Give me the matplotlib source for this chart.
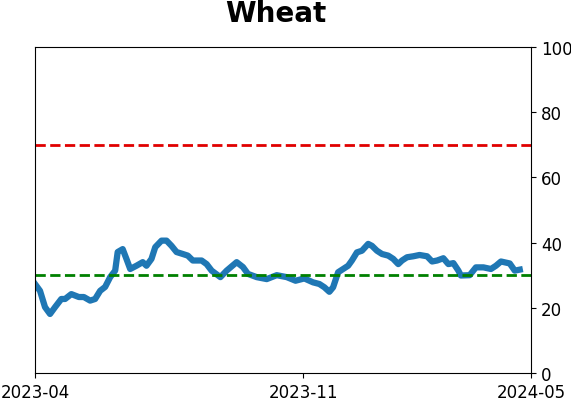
import matplotlib
matplotlib.use("Agg")
import matplotlib.pyplot as plt
import pandas as pd

dates = ["2023-04-01","2023-04-05","2023-04-09","2023-04-13","2023-04-17","2023-04-22","2023-04-25",
         "2023-04-30","2023-05-06","2023-05-10","2023-05-15","2023-05-19","2023-05-23","2023-05-27",
         "2023-05-31","2023-06-04","2023-06-06","2023-06-10","2023-06-13","2023-06-16","2023-06-21",
         "2023-06-26","2023-06-29","2023-07-03","2023-07-06","2023-07-11","2023-07-15","2023-07-19",
         "2023-07-23","2023-07-28","2023-08-01","2023-08-05","2023-08-12","2023-08-16","2023-08-20",
         "2023-08-27","2023-09-01","2023-09-09","2023-09-14","2023-09-18","2023-09-25","2023-10-03",
         "2023-10-11","2023-10-19","2023-10-26","2023-11-02","2023-11-09","2023-11-14","2023-11-18",
         "2023-11-22","2023-11-25","2023-11-29","2023-12-03","2023-12-07","2023-12-10","2023-12-14",
         "2023-12-18","2023-12-23","2023-12-26","2023-12-30","2024-01-03","2024-01-08","2024-01-12",
         "2024-01-16","2024-01-19","2024-01-23","2024-01-28","2024-02-02","2024-02-08","2024-02-12",
         "2024-02-16","2024-02-21","2024-02-25","2024-02-29","2024-03-04","2024-03-06","2024-03-13",
         "2024-03-18","2024-03-24","2024-03-30","2024-04-03","2024-04-07","2024-04-14","2024-04-18",
         "2024-04-22"]
values = [27.3,25.2,20.2,18.1,20.2,22.7,22.7,
          24.2,23.3,23.3,22.2,22.7,25.2,26.4,
          29.4,31.4,37.1,38.0,35.0,31.9,32.9,
          34.0,32.9,35.0,38.6,40.6,40.6,39.0,
          37.1,36.5,36.0,34.5,34.5,33.4,31.4,
          29.4,31.4,34.0,32.5,30.4,29.4,28.8,
          30.0,29.4,28.3,29.0,27.8,27.3,26.3,
          24.9,26.3,30.9,31.9,32.9,34.5,37.0,
          37.5,39.6,39.0,37.5,36.5,36.0,35.0,
          33.4,34.5,35.5,35.8,36.2,35.8,34.2,
          34.5,35.2,33.4,33.7,31.4,29.9,30.0,
          32.4,32.4,31.9,32.9,34.2,33.6,31.4,
          31.7]
upper_level = 70
lower_level = 30
title = "Wheat"
xticks = ["2023-04", "2023-11", "2024-05"]

x = pd.to_datetime(dates)
fig = plt.figure(figsize=(5.71, 4.02), dpi=100)
ax = fig.add_axes([0.0613, 0.0697, 0.8687, 0.8109])
ax.plot(x, values, color="#1f77b4", lw=4.5)
ax.axhline(upper_level, color="#e00000", ls="--", lw=2)
ax.axhline(lower_level, color="green", ls="--", lw=2)
ax.set_ylim(0, 100)
ax.set_xlim(pd.Timestamp("2023-04-01"), pd.Timestamp("2024-05-01"))
ax.set_xticks(pd.to_datetime(xticks))
ax.set_xticklabels(xticks)
ax.yaxis.tick_right()
ax.set_yticks([0, 20, 40, 60, 80, 100])
ax.tick_params(labelsize=12)
fig.text(0.4834, 0.946, title, fontsize=20, fontweight="bold", ha="center", va="baseline")
fig.savefig("out.png", dpi=100)
